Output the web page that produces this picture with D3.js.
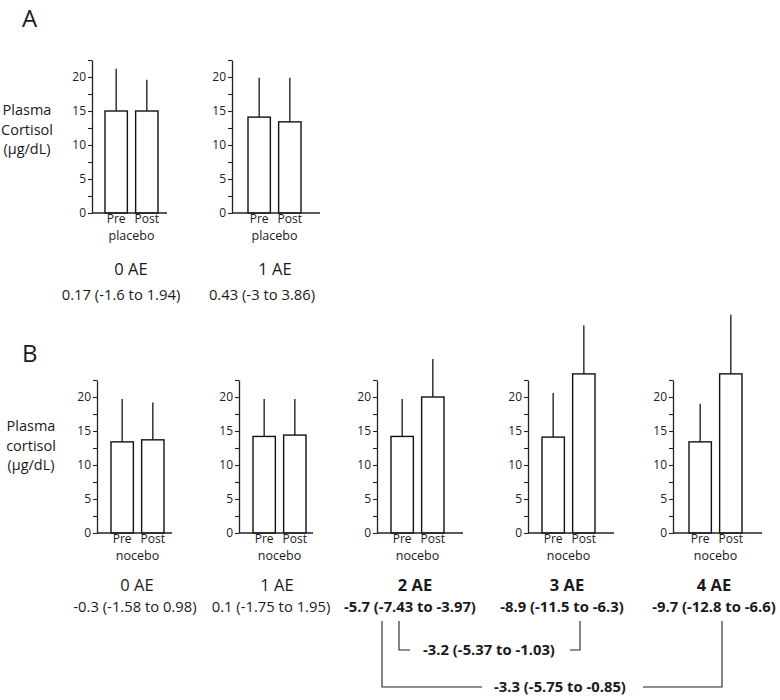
<!DOCTYPE html>
<html>
<head>
<meta charset="utf-8">
<script src="https://cdn.jsdelivr.net/npm/d3@7"></script>
<style>
  html, body { margin: 0; padding: 0; background: #fff; }
  svg { display: block; font-family: "Open Sans", "Noto Sans", sans-serif; }
</style>
</head>
<body>
<svg id="chart" width="780" height="700"></svg>
<script>
// ---------------- DATA ----------------
const timepoints = ["Pre", "Post"];
const yTickValues = [0, 5, 10, 15, 20];

// Panel A: placebo
const aGroups = ["0 AE", "1 AE"];
const aEffects = ["0.17 (-1.6 to 1.94)", "0.43 (-3 to 3.86)"];
const aPre = [15.0, 14.1];
const aPost = [15.0, 13.4];
const aPreUpper = [21.2, 19.9];
const aPostUpper = [19.6, 19.9];

// Panel B: nocebo
const bGroups = ["0 AE", "1 AE", "2 AE", "3 AE", "4 AE"];
const bEffects = ["-0.3 (-1.58 to 0.98)", "0.1 (-1.75 to 1.95)", "-5.7 (-7.43 to -3.97)", "-8.9 (-11.5 to -6.3)", "-9.7 (-12.8 to -6.6)"];
const bBold = [false, false, true, true, true];
const bPre = [13.4, 14.2, 14.2, 14.1, 13.4];
const bPost = [13.7, 14.4, 20.0, 23.4, 23.4];
const bPreUpper = [19.7, 19.7, 19.7, 20.6, 19.0];
const bPostUpper = [19.2, 19.7, 25.6, 30.5, 32.1];

// Between-group comparisons
const comparisons = ["-3.2 (-5.37 to -1.03)", "-3.3 (-5.75 to -0.85)"];

// ---------------- LAYOUT ----------------
const svg = d3.select("#chart");
const textColor = "#1a1a1a";

const rows = [
  { letter: "A", letterY: 27, zero: 213, top: 60, ylab: ["Plasma", "Cortisol", "(\u00b5g/dL)"], ylabX: 27, ylabY: 115,
    cond: "placebo", groups: aGroups, effects: aEffects, bold: [false, false],
    pre: aPre, post: aPost, preU: aPreUpper, postU: aPostUpper,
    axes: [92, 232], ends: [167, 320], barStart: [105, 248],
    grpX: [131, 275], ciX: [121, 262], grpY: 275, ciY: 300 },
  { letter: "B", letterY: 362, zero: 533, top: 380, ylab: ["Plasma", "cortisol", "(\u00b5g/dL)"], ylabX: 31, ylabY: 431,
    cond: "nocebo", groups: bGroups, effects: bEffects, bold: bBold,
    pre: bPre, post: bPost, preU: bPreUpper, postU: bPostUpper,
    axes: [97, 239, 377, 528, 673], ends: [172, 313, 463, 614, 762], barStart: [111, 253, 391, 542, 689],
    grpX: [137, 277, 415, 567, 714], ciX: [135, 271, 410, 562, 714], grpY: 591, ciY: 612 }
];

rows.forEach(row => {
  svg.append("text").attr("x", 22).attr("y", row.letterY)
    .attr("font-size", 24).attr("fill", textColor).text(row.letter);

  row.ylab.forEach((t, i) => {
    svg.append("text").attr("x", row.ylabX).attr("y", row.ylabY + i * 19.5)
      .attr("text-anchor", "middle").attr("font-size", 14.5).attr("fill", textColor).text(t);
  });

  const y = d3.scaleLinear().domain([0, 22.5]).range([row.zero, row.top]);

  row.groups.forEach((grp, i) => {
    const ax = row.axes[i];
    const g = svg.append("g");

    const x = d3.scaleBand().domain(timepoints)
      .range([row.barStart[i], row.barStart[i] + 53])
      .paddingInner(0.27).paddingOuter(0);

    const vals = [row.pre[i], row.post[i]];
    const uppers = [row.preU[i], row.postU[i]];

    // error bars (upper only)
    g.selectAll("line.err").data(timepoints).join("line")
      .attr("x1", d => x(d) + x.bandwidth() / 2)
      .attr("x2", d => x(d) + x.bandwidth() / 2)
      .attr("y1", (d, k) => y(vals[k]))
      .attr("y2", (d, k) => y(uppers[k]))
      .attr("stroke", "#333").attr("stroke-width", 1.5);

    // bars
    g.selectAll("rect").data(timepoints).join("rect")
      .attr("x", d => x(d))
      .attr("width", x.bandwidth())
      .attr("y", (d, k) => y(vals[k]))
      .attr("height", (d, k) => y(0) - y(vals[k]))
      .attr("fill", "#fff").attr("stroke", "#111").attr("stroke-width", 1.4);

    // y axis
    const yAxis = d3.axisLeft(y)
      .tickValues(d3.range(0, 22.51, 2.5))
      .tickSize(4).tickSizeOuter(0).tickPadding(2)
      .tickFormat(d => yTickValues.includes(d) ? d : "");
    const ya = g.append("g").attr("transform", `translate(${ax},0)`).call(yAxis);
    ya.select(".domain").attr("stroke", "#222").attr("stroke-width", 1.3);
    ya.selectAll(".tick line").attr("stroke", "#222").attr("stroke-width", 1.1);
    ya.selectAll(".tick text").attr("font-size", 12).attr("fill", "#222")
      .attr("font-family", "'Open Sans', sans-serif");

    // x axis line
    g.append("line").attr("x1", ax).attr("x2", row.ends[i])
      .attr("y1", y(0)).attr("y2", y(0))
      .attr("stroke", "#222").attr("stroke-width", 1.3);

    // category labels
    g.selectAll("text.cat").data(timepoints).join("text").attr("class", "cat")
      .attr("x", d => x(d) + x.bandwidth() / 2)
      .attr("y", y(0) + 10)
      .attr("text-anchor", "middle").attr("font-size", 12).attr("fill", textColor)
      .text(d => d);
    g.append("text")
      .attr("x", (x("Pre") + x("Post") + x.bandwidth()) / 2)
      .attr("y", y(0) + 27)
      .attr("text-anchor", "middle").attr("font-size", 12.5).attr("fill", textColor)
      .text(row.cond);

    // group label and effect
    svg.append("text").attr("x", row.grpX[i]).attr("y", row.grpY)
      .attr("text-anchor", "middle").attr("font-size", 16.5)
      .attr("font-weight", row.bold[i] ? "bold" : "normal")
      .attr("fill", textColor).text(grp);
    svg.append("text").attr("x", row.ciX[i]).attr("y", row.ciY)
      .attr("text-anchor", "middle").attr("font-size", 14.8)
      .attr("font-weight", row.bold[i] ? "bold" : "normal")
      .attr("fill", textColor).text(row.effects[i]);
  });
});

// ---------------- COMPARISON BRACKETS ----------------
const brackets = [
  { xl: 399, xr: 580, y0: 621, y1: 650, gapL: 410, gapR: 570, tx: 489, ty: 655 },
  { xl: 382, xr: 722, y0: 621, y1: 687, gapL: 482, gapR: 643, tx: 560, ty: 692 }
];
brackets.forEach((b, i) => {
  const p = d3.path();
  p.moveTo(b.xl, b.y0); p.lineTo(b.xl, b.y1); p.lineTo(b.gapL, b.y1);
  p.moveTo(b.gapR, b.y1); p.lineTo(b.xr, b.y1); p.lineTo(b.xr, b.y0);
  svg.append("path").attr("d", p.toString()).attr("fill", "none")
    .attr("stroke", "#222").attr("stroke-width", 1.1);
  svg.append("text").attr("x", b.tx).attr("y", b.ty)
    .attr("text-anchor", "middle").attr("font-size", 14.8).attr("font-weight", "bold")
    .attr("fill", textColor).text(comparisons[i]);
});
</script>
</body>
</html>
